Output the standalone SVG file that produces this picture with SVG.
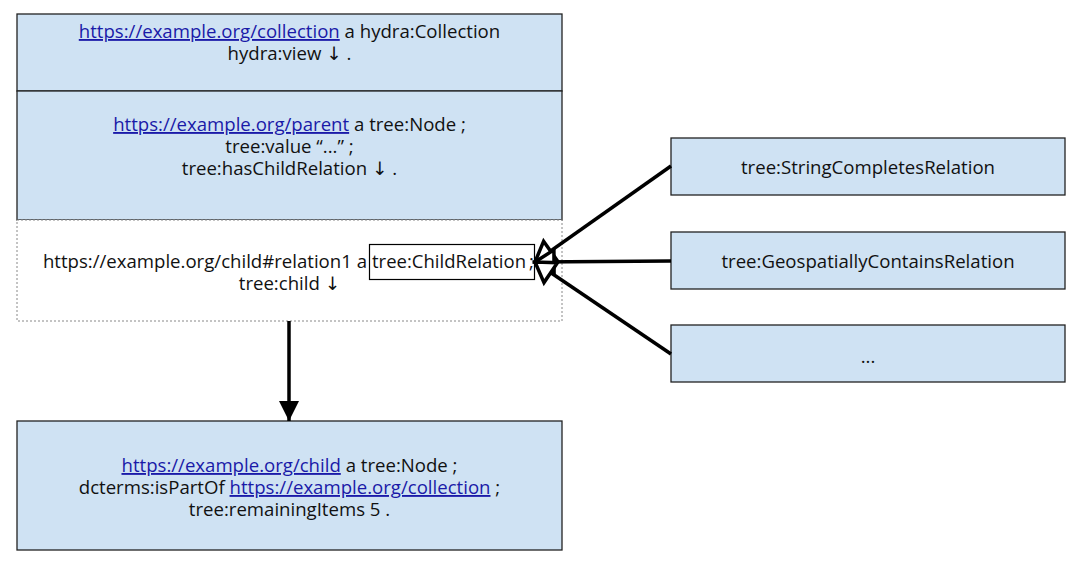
<svg xmlns="http://www.w3.org/2000/svg" width="1075" height="561" viewBox="0 0 1075 561">
<style>
.box{fill:#cfe2f3;stroke:#222;stroke-width:1.3}
.t{font-family:"Open Sans","DejaVu Sans",sans-serif;font-size:18.6px;fill:#111;text-anchor:middle}
.s{text-anchor:start}
.e{text-anchor:end}
.lk{fill:#1a1aa8;text-decoration:underline}
.conn{stroke:#000;stroke-width:3.5;fill:none}
</style>
<defs>
<marker id="hollow" viewBox="0 0 26 28" refX="22" refY="14" markerWidth="26" markerHeight="28" markerUnits="userSpaceOnUse" orient="auto" overflow="visible">
<path d="M22,14 L3,2 L3,26 Z" fill="#fff" stroke="#000" stroke-width="3.5" stroke-linejoin="miter"/>
</marker>
<marker id="solid" viewBox="0 0 20 24" refX="20" refY="12" markerWidth="20" markerHeight="24" markerUnits="userSpaceOnUse" orient="auto" overflow="visible">
<path d="M0,2 L20,12 L0,22 Z" fill="#000"/>
</marker>
</defs>
<rect width="1075" height="561" fill="#fff"/>
<g id="collection">
<rect class="box" x="17" y="14" width="545" height="77"/>
<text class="t" x="289.5" y="38"><tspan class="lk">https://example.org/collection</tspan> a hydra:Collection</text>
<text class="t" x="289.5" y="60">hydra:view ↓ .</text>
</g>
<g id="parent">
<rect class="box" x="17" y="91" width="545" height="129"/>
<text class="t" x="289.5" y="131"><tspan class="lk">https://example.org/parent</tspan> a tree:Node ;</text>
<text class="t" x="289.5" y="153">tree:value “...” ;</text>
<text class="t" x="289.5" y="175">tree:hasChildRelation ↓ .</text>
</g>
<g id="relation">
<rect x="17" y="220" width="545" height="101" fill="#fff" stroke="#888" stroke-width="1" stroke-dasharray="2,2"/>
<text class="t e" x="367" y="268">https://example.org/child#relation1 a</text>
<text class="t s" x="372" y="268" textLength="154" lengthAdjust="spacingAndGlyphs">tree:ChildRelation</text>
<text class="t s" x="529" y="268">;</text>
<text class="t" x="289.5" y="290">tree:child ↓</text>
<rect x="369.5" y="244.5" width="165" height="35" fill="none" stroke="#000" stroke-width="1.2"/>
</g>
<g id="child">
<rect class="box" x="17" y="421" width="545" height="129"/>
<text class="t" x="289.5" y="472"><tspan class="lk">https://example.org/child</tspan> a tree:Node ;</text>
<text class="t" x="289.5" y="494">dcterms:isPartOf <tspan class="lk">https://example.org/collection</tspan> ;</text>
<text class="t" x="289.5" y="516">tree:remainingItems 5 .</text>
</g>
<g id="string">
<rect class="box" x="671" y="138" width="394" height="57"/>
<text class="t" x="868" y="174">tree:StringCompletesRelation</text>
</g>
<g id="geo">
<rect class="box" x="671" y="232" width="394" height="57"/>
<text class="t" x="868" y="268">tree:GeospatiallyContainsRelation</text>
</g>
<g id="more">
<rect class="box" x="671" y="325" width="394" height="57"/>
<text class="t" x="868" y="363">...</text>
</g>
<g id="connectors">
<line class="conn" x1="671" y1="166" x2="535" y2="262" marker-end="url(#hollow)"/>
<line class="conn" x1="671" y1="261" x2="535" y2="262" marker-end="url(#hollow)"/>
<line class="conn" x1="671" y1="354" x2="535" y2="262" marker-end="url(#hollow)"/>
<line class="conn" x1="289" y1="321" x2="289" y2="421" marker-end="url(#solid)"/>
</g>
</svg>
